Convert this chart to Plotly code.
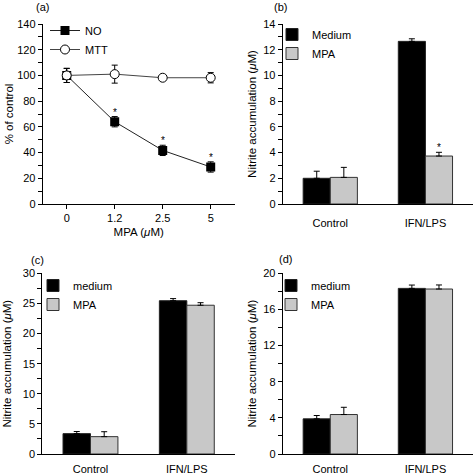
import plotly.graph_objects as go

FONT = "Liberation Sans, Arial, Helvetica, sans-serif"

# ---------------- data ----------------
# Panel (a)
a_doses = ["0", "1.2", "2.5", "5"]
a_no = [100, 64, 41.7, 28.8]
a_no_err = [5.5, 4, 4, 4]
a_mtt = [100, 101, 98.2, 98.2]
a_mtt_err = [5.5, 7, 1, 4]
a_sig = [False, True, True, True]

# Panels (b)-(d)
groups = ["Control", "IFN/LPS"]
b_medium = [2.0, 12.65]
b_medium_err = [0.55, 0.2]
b_mpa = [2.07, 3.73]
b_mpa_err = [0.78, 0.29]
b_sig = [False, True]

c_medium = [3.38, 25.45]
c_medium_err = [0.35, 0.35]
c_mpa = [2.88, 24.7]
c_mpa_err = [0.82, 0.42]

d_medium = [3.89, 18.33]
d_medium_err = [0.37, 0.37]
d_mpa = [4.37, 18.26]
d_mpa_err = [0.8, 0.45]

BLACK = "#000000"
GRAY = "#c8c8c8"

W, H = 475, 474


def px_x(p):
    return p / W


def px_y(p):
    return 1 - p / H


fig = go.Figure()

# ---------------- panel (a) ----------------
fig.add_trace(go.Scatter(
    x=a_doses, y=a_no, name="NO", mode="lines+markers",
    line=dict(color="#222222", width=1),
    marker=dict(symbol="square", size=9, color=BLACK, line=dict(width=0)),
    error_y=dict(type="data", array=a_no_err, color=BLACK, thickness=1, width=3),
    xaxis="x", yaxis="y", legend="legend",
))
fig.add_trace(go.Scatter(
    x=a_doses, y=a_mtt, name="MTT", mode="lines+markers",
    line=dict(color="#444444", width=1),
    marker=dict(symbol="circle", size=9, color="white", line=dict(color=BLACK, width=1)),
    error_y=dict(type="data", array=a_mtt_err, color=BLACK, thickness=1, width=3),
    xaxis="x", yaxis="y", legend="legend",
))


def bar_pair(med, med_err, mpa, mpa_err, xa, ya, leg, med_name):
    fig.add_trace(go.Bar(
        x=groups, y=med, name=med_name, marker=dict(color=BLACK, line=dict(color="#222", width=1)),
        error_y=dict(type="data", array=med_err, symmetric=False, arrayminus=[0] * len(med),
                     color=BLACK, thickness=1, width=3),
        xaxis=xa, yaxis=ya, legend=leg,
    ))
    fig.add_trace(go.Bar(
        x=groups, y=mpa, name="MPA", marker=dict(color=GRAY, line=dict(color="#333", width=1)),
        error_y=dict(type="data", array=mpa_err, symmetric=False, arrayminus=[0] * len(mpa),
                     color=BLACK, thickness=1, width=3),
        xaxis=xa, yaxis=ya, legend=leg,
    ))


bar_pair(b_medium, b_medium_err, b_mpa, b_mpa_err, "x2", "y2", "legend2", "Medium")
bar_pair(c_medium, c_medium_err, c_mpa, c_mpa_err, "x3", "y3", "legend3", "medium")
bar_pair(d_medium, d_medium_err, d_mpa, d_mpa_err, "x4", "y4", "legend4", "medium")

# ---------------- significance stars ----------------
star_font = dict(size=10, family=FONT, color=BLACK)
annotations = []
for i, (v, e, s) in enumerate(zip(a_no, a_no_err, a_sig)):
    if s:
        annotations.append(dict(x=i, y=v + e, xref="x", yref="y", text="*", showarrow=False,
                                yanchor="bottom", yshift=-3, font=star_font))
for i, (v, e, s) in enumerate(zip(b_mpa, b_mpa_err, b_sig)):
    if s:
        annotations.append(dict(x=i + 0.143, y=v + e, xref="x2", yref="y2", text="*", showarrow=False,
                                yanchor="bottom", yshift=-3, font=star_font))

# ---------------- panel labels ----------------
for lbl, xp, yp in [("(a)", 42, 7), ("(b)", 280, 7), ("(c)", 37, 260), ("(d)", 285, 259)]:
    annotations.append(dict(x=px_x(xp), y=px_y(yp), xref="paper", yref="paper", text=lbl,
                            showarrow=False, xanchor="center", yanchor="middle",
                            font=dict(size=11, family=FONT, color=BLACK)))

ytitle = "Nitrite accumulation (<i>μ</i>M)"

common_axis = dict(showline=True, linecolor=BLACK, linewidth=1, showgrid=False, zeroline=False,
                   tickfont=dict(size=11, family=FONT, color=BLACK), ticks="outside",
                   tickcolor=BLACK, ticklen=4, automargin=False)
bar_x_axis = {**common_axis, "ticks": "", "ticklabelstandoff": 5}
bar_x_axis_b = {**common_axis, "ticks": "", "ticklabelstandoff": 9}

dom_a_x = [px_x(42.7), px_x(234.7)]
dom_b_x = [px_x(282.7), px_x(473)]
dom_c_x = [px_x(42.3), px_x(235)]
dom_d_x = [px_x(282.7), px_x(473)]
dom_top_y = [px_y(204), px_y(24)]
dom_bot_y = [px_y(454), px_y(273.3)]

title_font = dict(size=11.5, family=FONT, color=BLACK)

fig.update_layout(
    width=W, height=H, margin=dict(l=0, r=0, t=0, b=0, autoexpand=False),
    paper_bgcolor="white", plot_bgcolor="white",
    font=dict(family=FONT, color=BLACK),
    barmode="group", bargap=0.43, bargroupgap=0,
    annotations=annotations,
    xaxis=dict(domain=dom_a_x, anchor="y", range=[-0.5, 3.5], type="category",
               title=dict(text="MPA (<i>μ</i>M)", font=title_font, standoff=4), **common_axis),
    yaxis=dict(domain=dom_top_y, anchor="x", range=[0, 140], dtick=20,
               minor=dict(ticks="outside", dtick=10, ticklen=4, tickcolor=BLACK),
               title=dict(text="% of control", font=title_font, standoff=1), **common_axis),
    xaxis2=dict(domain=dom_b_x, anchor="y2", range=[-0.5, 1.5], **bar_x_axis_b),
    yaxis2=dict(domain=dom_top_y, anchor="x2", range=[0, 14], dtick=2,
                minor=dict(ticks="outside", dtick=1, ticklen=4, tickcolor=BLACK),
                title=dict(text=ytitle, font=title_font, standoff=4), **common_axis),
    xaxis3=dict(domain=dom_c_x, anchor="y3", range=[-0.5, 1.5], **bar_x_axis),
    yaxis3=dict(domain=dom_bot_y, anchor="x3", range=[0, 30], dtick=5,
                minor=dict(ticks="outside", dtick=2.5, ticklen=4, tickcolor=BLACK),
                title=dict(text=ytitle, font=title_font, standoff=8), **common_axis),
    xaxis4=dict(domain=dom_d_x, anchor="y4", range=[-0.5, 1.5], **bar_x_axis),
    yaxis4=dict(domain=dom_bot_y, anchor="x4", range=[0, 20], dtick=4,
                minor=dict(ticks="outside", dtick=2, ticklen=4, tickcolor=BLACK),
                title=dict(text=ytitle, font=title_font, standoff=4), **common_axis),
)

leg_common = dict(bgcolor="rgba(0,0,0,0)", font=dict(size=11, family=FONT, color=BLACK),
                  xanchor="left", yanchor="top", tracegroupgap=0, itemwidth=30)
fig.update_layout(
    legend=dict(x=px_x(45), y=px_y(16), **leg_common),
    legend2=dict(x=px_x(272), y=px_y(20), **leg_common),
    legend3=dict(x=px_x(33), y=px_y(271), **leg_common),
    legend4=dict(x=px_x(271), y=px_y(271), **leg_common),
)

fig.write_html(
    "out.html",
    config={"displayModeBar": False},
    post_script="document.body.style.margin='0px';document.body.style.overflow='hidden';",
)
